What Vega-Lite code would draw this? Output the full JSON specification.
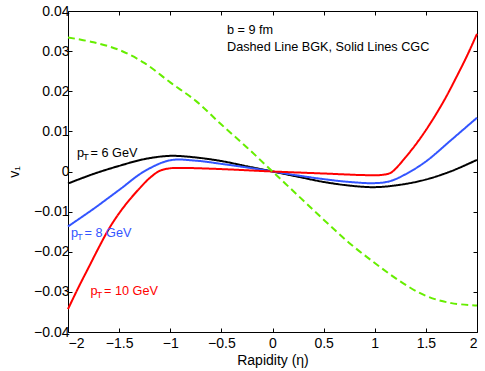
{
  "$schema": "https://vega.github.io/schema/vega-lite/v6.json",
  "width": 409,
  "height": 321,
  "autosize": {"type": "none"},
  "padding": {"left": 68, "top": 11, "right": 8, "bottom": 39},
  "background": "white",
  "config": {
    "font": "Liberation Sans",
    "view": {"stroke": "black", "strokeWidth": 1},
    "axis": {
      "grid": false,
      "domain": false,
      "tickColor": "black",
      "tickSize": -4,
      "tickWidth": 1,
      "labelColor": "black",
      "labelFont": "Liberation Sans",
      "labelFontSize": 14,
      "titleFont": "Liberation Sans",
      "titleFontSize": 14,
      "titleFontWeight": "normal",
      "titleColor": "black"
    },
    "text": {"font": "Liberation Sans"}
  },
  "datasets": {
    "curves": [
      {"x": -2, "y": -0.0030, "series": "pT6", "model": "CGC"},
      {"x": -1.75, "y": -0.0006, "series": "pT6", "model": "CGC"},
      {"x": -1.5, "y": 0.0014, "series": "pT6", "model": "CGC"},
      {"x": -1.25, "y": 0.0031, "series": "pT6", "model": "CGC"},
      {"x": -1, "y": 0.0039, "series": "pT6", "model": "CGC"},
      {"x": -0.75, "y": 0.0035, "series": "pT6", "model": "CGC"},
      {"x": -0.5, "y": 0.0026, "series": "pT6", "model": "CGC"},
      {"x": -0.25, "y": 0.0013, "series": "pT6", "model": "CGC"},
      {"x": 0, "y": 0, "series": "pT6", "model": "CGC"},
      {"x": 0.25, "y": -0.0013, "series": "pT6", "model": "CGC"},
      {"x": 0.5, "y": -0.0026, "series": "pT6", "model": "CGC"},
      {"x": 0.75, "y": -0.0035, "series": "pT6", "model": "CGC"},
      {"x": 1, "y": -0.0039, "series": "pT6", "model": "CGC"},
      {"x": 1.25, "y": -0.0033, "series": "pT6", "model": "CGC"},
      {"x": 1.5, "y": -0.0020, "series": "pT6", "model": "CGC"},
      {"x": 1.75, "y": 0.0001, "series": "pT6", "model": "CGC"},
      {"x": 2, "y": 0.0029, "series": "pT6", "model": "CGC"},

      {"x": -2, "y": -0.0137, "series": "pT8", "model": "CGC"},
      {"x": -1.75, "y": -0.0093, "series": "pT8", "model": "CGC"},
      {"x": -1.5, "y": -0.0046, "series": "pT8", "model": "CGC"},
      {"x": -1.25, "y": 0.0001, "series": "pT8", "model": "CGC"},
      {"x": -1, "y": 0.0028, "series": "pT8", "model": "CGC"},
      {"x": -0.75, "y": 0.0027, "series": "pT8", "model": "CGC"},
      {"x": -0.5, "y": 0.0019, "series": "pT8", "model": "CGC"},
      {"x": -0.25, "y": 0.0010, "series": "pT8", "model": "CGC"},
      {"x": 0, "y": 0, "series": "pT8", "model": "CGC"},
      {"x": 0.25, "y": -0.0010, "series": "pT8", "model": "CGC"},
      {"x": 0.5, "y": -0.0019, "series": "pT8", "model": "CGC"},
      {"x": 0.75, "y": -0.0026, "series": "pT8", "model": "CGC"},
      {"x": 1, "y": -0.0029, "series": "pT8", "model": "CGC"},
      {"x": 1.15, "y": -0.0024, "series": "pT8", "model": "CGC"},
      {"x": 1.3, "y": -0.0007, "series": "pT8", "model": "CGC"},
      {"x": 1.5, "y": 0.0025, "series": "pT8", "model": "CGC"},
      {"x": 1.75, "y": 0.0079, "series": "pT8", "model": "CGC"},
      {"x": 2, "y": 0.0134, "series": "pT8", "model": "CGC"},

      {"x": -2, "y": -0.0343, "series": "pT10", "model": "CGC"},
      {"x": -1.9, "y": -0.0290, "series": "pT10", "model": "CGC"},
      {"x": -1.8, "y": -0.0240, "series": "pT10", "model": "CGC"},
      {"x": -1.7, "y": -0.0190, "series": "pT10", "model": "CGC"},
      {"x": -1.6, "y": -0.0143, "series": "pT10", "model": "CGC"},
      {"x": -1.5, "y": -0.0104, "series": "pT10", "model": "CGC"},
      {"x": -1.4, "y": -0.0071, "series": "pT10", "model": "CGC"},
      {"x": -1.3, "y": -0.0042, "series": "pT10", "model": "CGC"},
      {"x": -1.2, "y": -0.0016, "series": "pT10", "model": "CGC"},
      {"x": -1.1, "y": 0.0002, "series": "pT10", "model": "CGC"},
      {"x": -1.0, "y": 0.0008, "series": "pT10", "model": "CGC"},
      {"x": -0.9, "y": 0.0009, "series": "pT10", "model": "CGC"},
      {"x": -0.5, "y": 0.0006, "series": "pT10", "model": "CGC"},
      {"x": 0, "y": 0, "series": "pT10", "model": "CGC"},
      {"x": 0.5, "y": -0.0005, "series": "pT10", "model": "CGC"},
      {"x": 0.9, "y": -0.0009, "series": "pT10", "model": "CGC"},
      {"x": 1.05, "y": -0.0009, "series": "pT10", "model": "CGC"},
      {"x": 1.15, "y": -0.0004, "series": "pT10", "model": "CGC"},
      {"x": 1.2, "y": 0.0006, "series": "pT10", "model": "CGC"},
      {"x": 1.3, "y": 0.0035, "series": "pT10", "model": "CGC"},
      {"x": 1.4, "y": 0.0067, "series": "pT10", "model": "CGC"},
      {"x": 1.5, "y": 0.0103, "series": "pT10", "model": "CGC"},
      {"x": 1.6, "y": 0.0143, "series": "pT10", "model": "CGC"},
      {"x": 1.7, "y": 0.0187, "series": "pT10", "model": "CGC"},
      {"x": 1.8, "y": 0.0236, "series": "pT10", "model": "CGC"},
      {"x": 1.9, "y": 0.0287, "series": "pT10", "model": "CGC"},
      {"x": 2.0, "y": 0.0343, "series": "pT10", "model": "CGC"},

      {"x": -2, "y": 0.0334, "series": "BGK", "model": "BGK"},
      {"x": -1.75, "y": 0.0322, "series": "BGK", "model": "BGK"},
      {"x": -1.5, "y": 0.0303, "series": "BGK", "model": "BGK"},
      {"x": -1.25, "y": 0.0270, "series": "BGK", "model": "BGK"},
      {"x": -1, "y": 0.0222, "series": "BGK", "model": "BGK"},
      {"x": -0.75, "y": 0.0176, "series": "BGK", "model": "BGK"},
      {"x": -0.5, "y": 0.0117, "series": "BGK", "model": "BGK"},
      {"x": -0.25, "y": 0.0060, "series": "BGK", "model": "BGK"},
      {"x": 0, "y": 0, "series": "BGK", "model": "BGK"},
      {"x": 0.25, "y": -0.0060, "series": "BGK", "model": "BGK"},
      {"x": 0.5, "y": -0.0120, "series": "BGK", "model": "BGK"},
      {"x": 0.75, "y": -0.0178, "series": "BGK", "model": "BGK"},
      {"x": 1, "y": -0.0228, "series": "BGK", "model": "BGK"},
      {"x": 1.25, "y": -0.0274, "series": "BGK", "model": "BGK"},
      {"x": 1.5, "y": -0.0310, "series": "BGK", "model": "BGK"},
      {"x": 1.75, "y": -0.0328, "series": "BGK", "model": "BGK"},
      {"x": 2, "y": -0.0334, "series": "BGK", "model": "BGK"}
    ],
    "labels": [
      {"x": -1.912, "y": 0.0037, "series": "pT6", "rest": "= 6 GeV"},
      {"x": -1.97, "y": -0.0163, "series": "pT8", "rest": "= 8 GeV"},
      {"x": -1.78, "y": -0.0308, "series": "pT10", "rest": "= 10 GeV"}
    ],
    "notes": [
      {"x": -0.445, "y": 0.0342, "text": "b = 9 fm"},
      {"x": -0.445, "y": 0.0301, "text": "Dashed Line BGK, Solid Lines CGC"}
    ]
  },
  "resolve": {"axis": {"x": "independent", "y": "independent"}},
  "layer": [
    {
      "data": {"name": "curves"},
      "mark": {"type": "line", "interpolate": "catmull-rom", "strokeWidth": 2},
      "encoding": {
        "x": {"field": "x", "type": "quantitative",
          "scale": {"domain": [-2, 2], "nice": false, "zero": false},
          "axis": {"orient": "bottom", "values": [-2, -1.5, -1, -0.5, 0, 0.5, 1, 1.5, 2], "format": "~g", "labelPadding": 8, "title": "Rapidity (η)", "titlePadding": 3}},
        "y": {"field": "y", "type": "quantitative",
          "scale": {"domain": [-0.04, 0.04], "nice": false, "zero": false},
          "axis": {"orient": "left", "values": [-0.04, -0.03, -0.02, -0.01, 0, 0.01, 0.02, 0.03, 0.04], "format": "~g", "labelPadding": 3, "title": "v₁", "titlePadding": 12}},
        "color": {"field": "series", "type": "nominal",
          "scale": {"domain": ["pT6", "pT8", "pT10", "BGK"], "range": ["#000000", "#3355ff", "#ff0000", "#66ee00"]},
          "legend": null},
        "strokeDash": {"field": "model", "type": "nominal",
          "scale": {"domain": ["BGK", "CGC"], "range": [[7, 4], [1, 0]]},
          "legend": null}
      }
    },
    {
      "data": {"name": "curves"},
      "mark": {"type": "point", "opacity": 0},
      "encoding": {
        "x": {"field": "x", "type": "quantitative",
          "scale": {"domain": [-2, 2], "nice": false, "zero": false},
          "axis": {"orient": "top", "values": [-2, -1.5, -1, -0.5, 0, 0.5, 1, 1.5, 2], "labels": false, "title": null}},
        "y": {"field": "y", "type": "quantitative",
          "scale": {"domain": [-0.04, 0.04], "nice": false, "zero": false},
          "axis": {"orient": "right", "values": [-0.04, -0.03, -0.02, -0.01, 0, 0.01, 0.02, 0.03, 0.04], "labels": false, "title": null}}
      }
    },
    {
      "data": {"name": "labels"},
      "mark": {"type": "text", "align": "left", "baseline": "alphabetic", "fontSize": 12.7, "text": "p"},
      "encoding": {
        "x": {"field": "x", "type": "quantitative", "scale": {"domain": [-2, 2], "nice": false, "zero": false}, "axis": null},
        "y": {"field": "y", "type": "quantitative", "scale": {"domain": [-0.04, 0.04], "nice": false, "zero": false}, "axis": null},
        "color": {"field": "series", "type": "nominal", "legend": null}
      }
    },
    {
      "data": {"name": "labels"},
      "mark": {"type": "text", "align": "left", "baseline": "alphabetic", "fontSize": 9.5, "dx": 6, "dy": 3, "text": "T"},
      "encoding": {
        "x": {"field": "x", "type": "quantitative", "scale": {"domain": [-2, 2], "nice": false, "zero": false}, "axis": null},
        "y": {"field": "y", "type": "quantitative", "scale": {"domain": [-0.04, 0.04], "nice": false, "zero": false}, "axis": null},
        "color": {"field": "series", "type": "nominal", "legend": null}
      }
    },
    {
      "data": {"name": "labels"},
      "mark": {"type": "text", "align": "left", "baseline": "alphabetic", "fontSize": 12.7, "dx": 13.5},
      "encoding": {
        "x": {"field": "x", "type": "quantitative", "scale": {"domain": [-2, 2], "nice": false, "zero": false}, "axis": null},
        "y": {"field": "y", "type": "quantitative", "scale": {"domain": [-0.04, 0.04], "nice": false, "zero": false}, "axis": null},
        "text": {"field": "rest"},
        "color": {"field": "series", "type": "nominal", "legend": null}
      }
    },
    {
      "data": {"name": "notes"},
      "mark": {"type": "text", "align": "left", "baseline": "alphabetic", "fontSize": 12.7, "color": "black"},
      "encoding": {
        "x": {"field": "x", "type": "quantitative", "scale": {"domain": [-2, 2], "nice": false, "zero": false}, "axis": null},
        "y": {"field": "y", "type": "quantitative", "scale": {"domain": [-0.04, 0.04], "nice": false, "zero": false}, "axis": null},
        "text": {"field": "text"}
      }
    }
  ]
}
